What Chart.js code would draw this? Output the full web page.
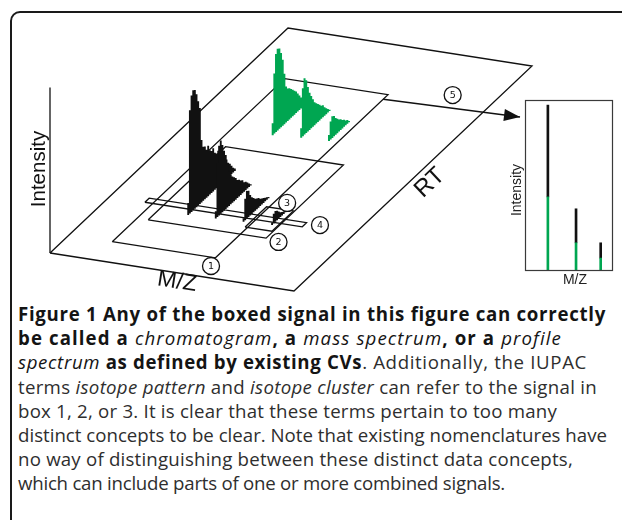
<!DOCTYPE html>
<html>
<head>
<meta charset="utf-8">
<script src="https://cdn.jsdelivr.net/npm/chart.js@4.4.1/dist/chart.umd.min.js"></script>
<style>
  html, body { margin: 0; padding: 0; background: #fff; width: 622px; height: 520px; overflow: hidden; position: relative; }
  #frame { position: absolute; left: 10px; top: 11px; width: 640px; height: 540px; border: 2px solid #1a1a1a; border-radius: 10px; box-sizing: border-box; }
  #main { position: absolute; left: 0; top: 0; width: 622px; height: 300px; }
  #inset { position: absolute; left: 500px; top: 90px; width: 120px; height: 205px; }
  #caption { position: absolute; left: 18px; top: 302px; font-family: 'Open Sans', sans-serif; font-size: 17px; color: #2e2e2e; white-space: nowrap; }
  #caption .ln { height: 24.2px; line-height: 24.2px; }
  #caption b { color: #141414; font-weight: 700; }
  #caption b i { font-weight: 400; }
</style>
</head>
<body>
<div id="frame"></div>
<canvas id="main" width="622" height="300"></canvas>
<canvas id="inset" width="120" height="205"></canvas>
<div id="caption">
  <div class="ln"><span><b>Figure 1 Any of the boxed signal in this figure can correctly</b></span></div>
  <div class="ln"><span><b>be called a <i>chromatogram</i>, a <i>mass spectrum</i>, or a <i>profile</i></b></span></div>
  <div class="ln"><span><b><i>spectrum</i> as defined by existing CVs</b>. Additionally, the IUPAC</span></div>
  <div class="ln"><span>terms <i>isotope pattern</i> and <i>isotope cluster</i> can refer to the signal in</span></div>
  <div class="ln"><span>box 1, 2, or 3. It is clear that these terms pertain to too many</span></div>
  <div class="ln"><span>distinct concepts to be clear. Note that existing nomenclatures have</span></div>
  <div class="ln"><span>no way of distinguishing between these distinct data concepts,</span></div>
  <div class="ln"><span>which can include parts of one or more combined signals.</span></div>
</div>
<script>
// ---- data -------------------------------------------------------------
// m/z and RT are normalised to the floor (0..1); intensity in arbitrary units.
const isotopeMz = [0.345, 0.455, 0.565, 0.677];
const RT_STEP = 0.007;

// early-eluting isotope chromatograms (black)
const earlyRtStart = [0.227, 0.230, 0.234, 0.239];
const earlyM0 = [10, 86, 97, 100, 99, 94, 87, 80, 52, 45, 44, 40, 42, 37, 35, 36, 31, 29, 30, 25, 23, 21, 18, 16, 12, 10, 7, 4, 2];
const earlyM1 = [6, 45, 58, 61, 56, 50, 45, 36, 29, 25, 22, 20, 18, 15, 14, 12, 11, 8, 7, 5, 3, 1];
const earlyM2 = [3, 18, 23, 22, 17, 14, 12, 10, 9, 8, 6, 5, 4, 3, 2, 1];
const earlyM3 = [2, 8, 9, 8, 6, 4, 3, 2, 1];

// late-eluting isotope chromatograms (green)
const lateRtStart = [0.582, 0.589, 0.593];
const lateM0 = [10, 50, 65, 68, 67, 62, 55, 42, 30, 27, 26, 24, 22, 20, 18, 15, 12, 9, 6, 3];
const lateM1 = [8, 40, 47, 44, 37, 31, 27, 23, 19, 17, 15, 13, 11, 10, 7, 5, 3, 1];
const lateM2 = [5, 15, 18, 17, 14, 12, 10, 9, 7, 6, 4, 3, 1];

// outlined regions on the m/z x RT floor: whole floor, then boxes 1..4
const regionMz = [[0, 1], [0.177, 0.600], [0.222, 0.705], [0.590, 0.700], [0.145, 0.790]];
const regionRt = [[0, 1], [0.080, 0.805], [0.185, 0.510], [0.215, 0.305], [0.250, 0.268]];
const intensityAxisMax = 138;

// numbered callouts
const calloutLabels = ['1', '2', '3', '4', '5'];
const calloutMz = [0.615, 0.763, 0.648, 0.846, 0.829];
const calloutRt = [0.046, 0.178, 0.332, 0.267, 0.842];

// extracted spectrum (inset)
const insetMz = [0.26, 0.58, 0.86];
const insetGreen = [43, 16, 7];
const insetBlack = [54, 20, 9];

// ---- layout -----------------------------------------------------------
const ORIGIN = { x: 50, y: 253 };
const MZ_DIR = { x: 244, y: 38 };
const RT_DIR = { x: 238, y: -225 };
const PX_PER_INTENSITY = 1.2;
const ARROW_FROM = { mz: 0.600, rt: 0.785 };
const ARROW_TIP = { x: 520, y: 117 };
const LABEL_FONT = '"Liberation Sans", Arial, sans-serif';

function project(mz, rt, inten) {
  return {
    x: ORIGIN.x + mz * MZ_DIR.x + rt * RT_DIR.x,
    y: ORIGIN.y + mz * MZ_DIR.y + rt * RT_DIR.y - (inten || 0) * PX_PER_INTENSITY
  };
}

function outline(mzRange, rtRange) {
  const [m0, m1] = mzRange, [r0, r1] = rtRange;
  return [project(m0, r0), project(m1, r0), project(m1, r1), project(m0, r1), project(m0, r0)];
}

// one vertical stroke per RT sample, separated by gaps
function chromatogram(mz, rtStart, values) {
  const pts = [];
  values.forEach((v, i) => {
    const rt = rtStart + i * RT_STEP;
    pts.push(project(mz, rt, 0), project(mz, rt, v), { x: null, y: null });
  });
  return pts;
}

const INK = '#111';
const GREEN = '#00a651';
const datasets = [];

regionMz.forEach((m, i) => {
  datasets.push({ data: outline(m, regionRt[i]), showLine: true, borderColor: INK, borderWidth: 1.3,
                  pointRadius: 0, fill: false, order: 20 });
});
datasets.push({ data: [project(0, 0, 0), project(0, 0, intensityAxisMax)], showLine: true,
                borderColor: INK, borderWidth: 1.3, pointRadius: 0, order: 20 });

[lateM0, lateM1, lateM2].forEach((vals, i) => {
  datasets.push({ data: chromatogram(isotopeMz[i], lateRtStart[i], vals), showLine: true, spanGaps: false,
                  borderColor: GREEN, borderWidth: 2.0, pointRadius: 0, order: 15 - i });
});
[earlyM0, earlyM1, earlyM2, earlyM3].forEach((vals, i) => {
  datasets.push({ data: chromatogram(isotopeMz[i], earlyRtStart[i], vals), showLine: true, spanGaps: false,
                  borderColor: INK, borderWidth: 1.85, pointRadius: 0, order: 10 - i });
});

const arrowStart = project(ARROW_FROM.mz, ARROW_FROM.rt);
datasets.push({ data: [arrowStart, ARROW_TIP], showLine: true, borderColor: INK, borderWidth: 1.5,
                pointRadius: 0, order: 3 });

datasets.push({ data: calloutMz.map((m, i) => project(m, calloutRt[i])), showLine: false,
                pointRadius: 8.5, pointBackgroundColor: '#fff', pointBorderColor: INK, pointBorderWidth: 1.3,
                order: 0 });
const calloutIndex = datasets.length - 1;

const diagramText = {
  id: 'diagramText',
  afterDatasetsDraw(chart) {
    const { ctx } = chart;
    const sx = chart.scales.x, sy = chart.scales.y;
    const px = p => ({ x: sx.getPixelForValue(p.x), y: sy.getPixelForValue(p.y) });
    ctx.save();
    ctx.fillStyle = INK;
    ctx.textAlign = 'center';
    ctx.textBaseline = 'middle';

    // arrow head
    const a = px(arrowStart), t = px(ARROW_TIP);
    const ang = Math.atan2(t.y - a.y, t.x - a.x);
    const len = 16, half = 6;
    ctx.beginPath();
    ctx.moveTo(t.x, t.y);
    ctx.lineTo(t.x - len * Math.cos(ang) + half * Math.sin(ang), t.y - len * Math.sin(ang) - half * Math.cos(ang));
    ctx.lineTo(t.x - len * Math.cos(ang) - half * Math.sin(ang), t.y - len * Math.sin(ang) + half * Math.cos(ang));
    ctx.closePath();
    ctx.fill();

    // callout numbers
    ctx.font = '9.5px "DejaVu Sans"';
    chart.getDatasetMeta(calloutIndex).data.forEach((el, i) => {
      ctx.fillText(calloutLabels[i], el.x, el.y + 0.5);
    });

    // axis names
    const drawRot = (text, p, rot, font) => {
      const q = px(p);
      ctx.save();
      ctx.translate(q.x, q.y);
      ctx.rotate(rot);
      ctx.font = font;
      ctx.fillText(text, 0, 0);
      ctx.restore();
    };
    const ip = project(0, 0, 70);
    drawRot('Intensity', { x: ip.x - 11, y: ip.y }, -Math.PI / 2, '20.5px ' + LABEL_FONT);
    drawRot('M/Z', project(0.555, -0.035), Math.atan2(MZ_DIR.y, MZ_DIR.x), '23px ' + LABEL_FONT);
    drawRot('RT', project(1.076, 0.493), Math.atan2(RT_DIR.y, RT_DIR.x), '24px ' + LABEL_FONT);
    ctx.restore();
  }
};

new Chart(document.getElementById('main'), {
  type: 'scatter',
  data: { datasets },
  options: {
    responsive: false,
    animation: false,
    events: [],
    layout: { padding: 0, autoPadding: false },
    plugins: { legend: { display: false }, tooltip: { enabled: false } },
    scales: {
      x: { type: 'linear', min: 0, max: 622, display: false },
      y: { type: 'linear', min: 0, max: 300, reverse: true, display: false }
    }
  },
  plugins: [diagramText]
});

// ---- inset spectrum ---------------------------------------------------
const insetFrame = {
  id: 'insetFrame',
  afterDraw(chart) {
    const { ctx, chartArea: ca } = chart;
    ctx.save();
    ctx.strokeStyle = '#3a3a3a';
    ctx.lineWidth = 1.2;
    ctx.strokeRect(Math.round(ca.left) + 0.5, Math.round(ca.top) + 0.5,
                   Math.round(ca.right - ca.left) - 1, Math.round(ca.bottom - ca.top));
    ctx.fillStyle = '#222';
    ctx.font = '14px ' + LABEL_FONT;
    ctx.textAlign = 'center';
    ctx.textBaseline = 'middle';
    ctx.fillText('M/Z', ca.left + 50, ca.bottom + 10);
    ctx.translate(ca.left - 8, ca.top + 90);
    ctx.rotate(-Math.PI / 2);
    ctx.fillText('Intensity', 0, 0);
    ctx.restore();
  }
};

new Chart(document.getElementById('inset'), {
  type: 'bar',
  data: {
    datasets: [
      { data: insetMz.map((m, i) => ({ x: m, y: insetGreen[i] })), backgroundColor: GREEN, barThickness: 2 },
      { data: insetMz.map((m, i) => ({ x: m, y: insetBlack[i] })), backgroundColor: INK, barThickness: 2 }
    ]
  },
  options: {
    responsive: false,
    animation: false,
    events: [],
    layout: { padding: { left: 25, right: 7, top: 10, bottom: 25 }, autoPadding: false },
    plugins: { legend: { display: false }, tooltip: { enabled: false } },
    scales: {
      x: { type: 'linear', min: 0, max: 1, offset: false, stacked: true, display: false },
      y: { min: 0, max: 100, stacked: true, display: false }
    }
  },
  plugins: [insetFrame]
});

// ---- caption line fitting ---------------------------------------------
const lineEnds = [588, 544, 569, 579, 539, 589, 555, 487];
const cap = document.getElementById('caption');
const spans = cap.querySelectorAll('.ln > span');
const ref = spans[5].getBoundingClientRect().width;
cap.style.fontSize = (17 * lineEnds[5] / ref).toFixed(2) + 'px';
spans.forEach((s, i) => {
  const w = s.getBoundingClientRect().width;
  const n = s.textContent.length;
  s.style.letterSpacing = ((lineEnds[i] - w) / n).toFixed(3) + 'px';
});
</script>
</body>
</html>
